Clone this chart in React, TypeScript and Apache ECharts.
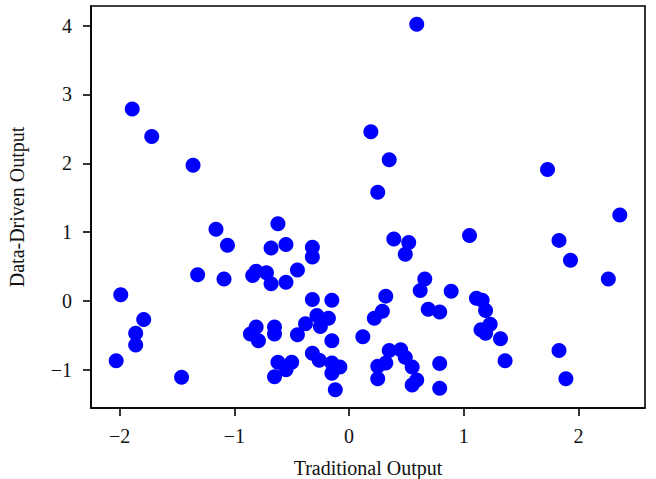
import React, { useEffect, useRef } from "react";
import * as echarts from "echarts";

const traditionalOutput: number[] = [
  -1.89, -1.72, -1.36, -1.16, -0.62, 0.59, 0.19, 0.35, 0.25, 1.73,
  2.36, 0.39, 0.52, 0.49, 1.05, 1.83, 1.93, 2.26, -1.06, -1.32,
  -1.09, -1.99, -1.79, -1.86, -1.86, -2.03, -1.46, -0.68, -0.55, -0.32,
  -0.32, -0.84, -0.81, -0.72, -0.68, -0.55, -0.45, -0.32, -0.15, -0.81,
  -0.86, -0.79, -0.65, -0.65, -0.45, -0.38, -0.28, -0.25, -0.18, -0.32,
  -0.26, -0.62, -0.55, -0.5, -0.65, -0.15, -0.15, -0.08, -0.15, -0.12,
  0.12, 0.32, 0.29, 0.22, 0.35, 0.45, 0.49, 0.32, 0.25, 0.25,
  0.55, 0.59, 0.55, 0.79, 0.79, 0.66, 0.62, 0.89, 0.69, 0.79,
  1.11, 1.16, 1.19, 1.23, 1.15, 1.19, 1.32, 1.36, 1.83, 1.89,
];

const dataDrivenOutput: number[] = [
  2.79, 2.39, 1.97, 1.04, 1.12, 4.02, 2.46, 2.05, 1.58, 1.91,
  1.25, 0.9, 0.85, 0.68, 0.95, 0.88, 0.59, 0.32, 0.81, 0.38,
  0.32, 0.09, -0.27, -0.47, -0.64, -0.87, -1.11, 0.77, 0.82, 0.78,
  0.64, 0.37, 0.43, 0.41, 0.25, 0.27, 0.45, 0.02, 0.01, -0.38,
  -0.48, -0.58, -0.38, -0.48, -0.49, -0.33, -0.21, -0.37, -0.25, -0.76,
  -0.86, -0.89, -1.0, -0.89, -1.1, -0.58, -0.9, -0.96, -1.05, -1.29,
  -0.52, 0.07, -0.15, -0.25, -0.72, -0.71, -0.82, -0.9, -0.95, -1.13,
  -0.96, -1.15, -1.22, -0.91, -1.27, 0.32, 0.15, 0.14, -0.12, -0.16,
  0.04, 0.01, -0.14, -0.34, -0.42, -0.47, -0.55, -0.87, -0.72, -1.13,
];

const xTicks: number[] = [-2, -1, 0, 1, 2];
const yTicks: number[] = [-1, 0, 1, 2, 3, 4];

const xLabel = "Traditional Output";
const yLabel = "Data-Driven Output";

const FONT = "'Liberation Serif', 'Times New Roman', serif";

const fmt = (v: number) => (v < 0 ? "\u2212" + String(Math.abs(v)) : String(v));

function pad(vals: number[]): [number, number] {
  const lo = Math.min(...vals);
  const hi = Math.max(...vals);
  const m = (hi - lo) * 0.05;
  return [lo - m, hi + m];
}

export default function App() {
  const ref = useRef<HTMLDivElement>(null);

  useEffect(() => {
    document.body.style.margin = "0";
    if (!ref.current) return;
    const chart = echarts.init(ref.current, undefined, { renderer: "svg" });
    const [xMin, xMax] = pad(traditionalOutput);
    const [yMin, yMax] = pad(dataDrivenOutput);
    const points = traditionalOutput.map((x, i) => [x, dataDrivenOutput[i]]);

    const axisCommon = {
      axisLine: { show: true, onZero: false, lineStyle: { color: "#000", width: 1.6 } },
      axisTick: { show: true, inside: false, length: 8, lineStyle: { color: "#000", width: 1.6 } },
      splitLine: { show: false },
      nameLocation: "middle" as const,
      nameTextStyle: { fontFamily: FONT, fontSize: 20, color: "#111" },
    };

    chart.setOption({
      animation: false,
      backgroundColor: "#fff",
      grid: {
        left: 91,
        right: 11,
        top: 6,
        bottom: 71,
        containLabel: false,
        outerBoundsMode: "none",
        show: true,
        borderColor: "#000",
        borderWidth: 1.6,
        backgroundColor: "transparent",
      },
      xAxis: {
        type: "value",
        min: xMin,
        max: xMax,
        name: xLabel,
        nameGap: 50,
        ...axisCommon,
        axisTick: { ...axisCommon.axisTick, customValues: xTicks },
        axisLabel: {
          customValues: xTicks,
          formatter: (v: number) => fmt(v),
          fontFamily: FONT,
          fontSize: 20,
          color: "#111",
          margin: 18,
        },
      },
      yAxis: {
        type: "value",
        min: yMin,
        max: yMax,
        name: yLabel,
        nameGap: 64,
        ...axisCommon,
        axisTick: { ...axisCommon.axisTick, customValues: yTicks },
        axisLabel: {
          customValues: yTicks,
          formatter: (v: number) => fmt(v),
          fontFamily: FONT,
          fontSize: 20,
          color: "#111",
          margin: 19,
        },
      },
      series: [
        {
          type: "scatter",
          data: points,
          symbol: "circle",
          symbolSize: 15,
          itemStyle: { color: "#0000ff", opacity: 1 },
        },
      ],
    });

    return () => chart.dispose();
  }, []);

  return <div ref={ref} style={{ width: 656, height: 479 }} />;
}
